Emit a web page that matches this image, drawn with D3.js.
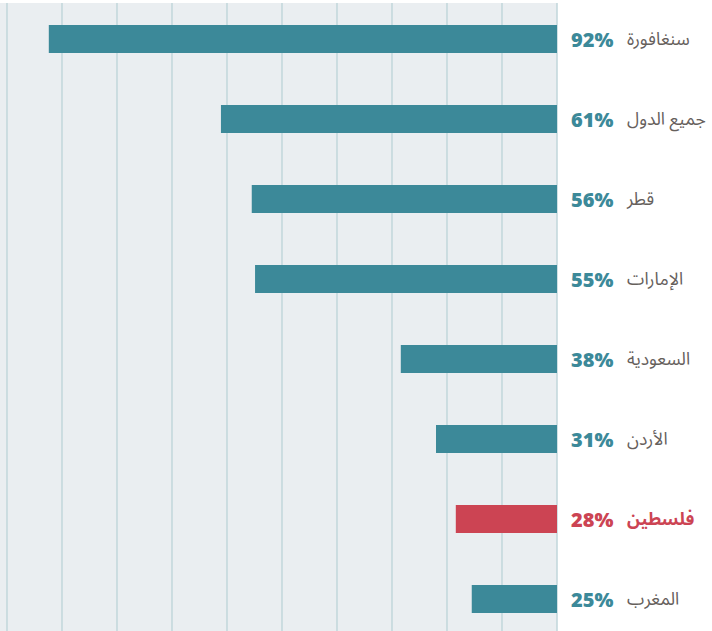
<!DOCTYPE html>
<html>
<head>
<meta charset="utf-8">
<script src="https://d3js.org/d3.v7.min.js"></script>
<style>
  body { margin: 0; background: #fff; }
</style>
</head>
<body>
<svg class="target" width="712" height="631"></svg>
<script>

// countries (top to bottom)
countries = ['سنغافورة', 'جميع الدول', 'قطر', 'الإمارات', 'السعودية', 'الأردن', 'فلسطين', 'المغرب']
// printed share labels
shares = [92, 61, 56, 55, 38, 31, 28, 25]
// bar lengths as drawn (0..100)
barLengths = [92.4, 61.1, 55.5, 54.9, 28.4, 22.0, 18.4, 15.5]
highlight = 'فلسطين'

width = 712
height = 631

teal = '#3c8999'
red = '#cc4453'

xScale = d3.scaleLinear([0, 100], [557, 7])

yScale = d3.scaleBand()
  .domain(countries)
  .range([-1, 639])
  .paddingInner(0.65)
  .paddingOuter(0.325)

const svg = d3.select('.target')

// panel background
svg.append('rect')
    .attr('x', 0)
    .attr('y', 3)
    .attr('width', xScale(0))
    .attr('height', height - 3)
    .attr('fill', '#eaeef1')

// vertical grid
svg.append('g')
    .attr('class', 'grid')
  .selectAll('line')
  .data(xScale.ticks(10))
  .join('line')
    .attr('x1', d => xScale(d))
    .attr('x2', d => xScale(d))
    .attr('y1', 3)
    .attr('y2', height)
    .attr('stroke', '#c4d8dd')
    .attr('stroke-width', 1.6)

const rows = svg.append('g')
  .selectAll('g')
  .data(countries.map((c, i) => ({ name: c, share: shares[i], len: barLengths[i] })))
  .join('g')
    .attr('transform', d => `translate(0,${yScale(d.name)})`)

rows.append('rect')
    .attr('x', d => xScale(d.len))
    .attr('width', d => xScale(0) - xScale(d.len))
    .attr('height', yScale.bandwidth())
    .attr('fill', d => d.name === highlight ? red : teal)

rows.append('text')
    .attr('x', 571)
    .attr('y', yScale.bandwidth() / 2)
    .attr('dy', '0.4em')
    .style('font-family', '"Open Sans", "DejaVu Sans", sans-serif')
    .style('font-weight', 800)
    .style('font-size', '20px')
    .attr('fill', d => d.name === highlight ? red : teal)
    .text(d => d.share + '%')

rows.append('text')
    .attr('x', 627)
    .attr('y', yScale.bandwidth() / 2)
    .attr('dy', '0.32em')
    .style('font-family', '"Noto Sans Arabic", "DejaVu Sans", sans-serif')
    .style('font-weight', d => d.name === highlight ? 700 : 400)
    .style('font-size', '17.5px')
    .attr('fill', d => d.name === highlight ? red : '#66605c')
    .text(d => d.name)

</script>
</body>
</html>
